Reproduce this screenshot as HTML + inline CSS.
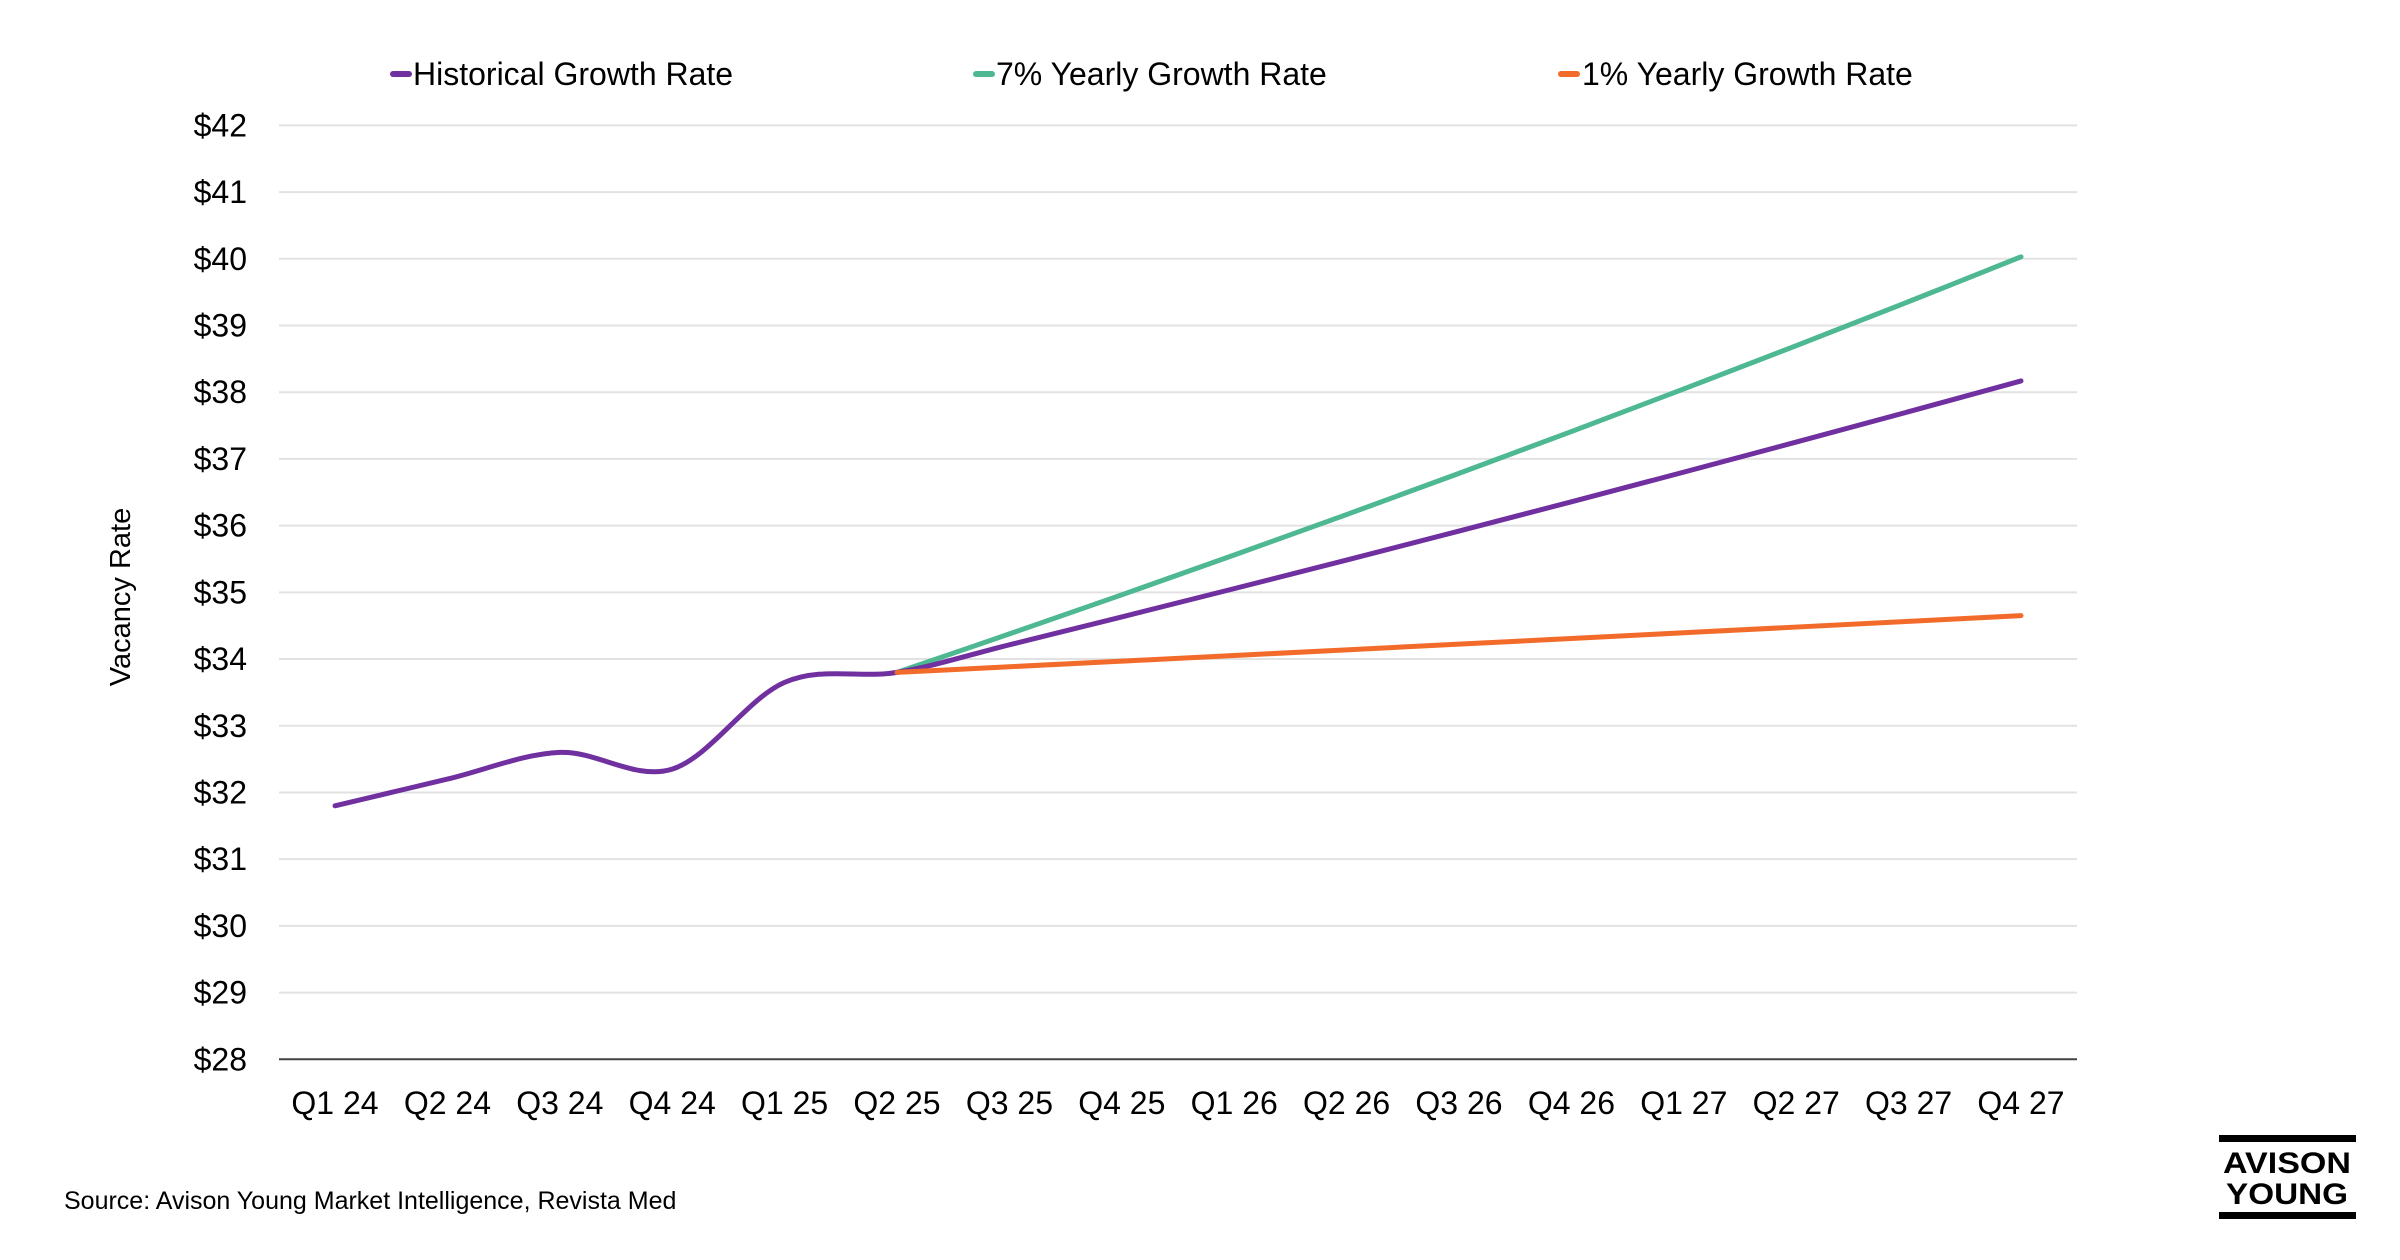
<!DOCTYPE html>
<html><head><meta charset="utf-8"><style>
html,body{margin:0;padding:0;background:#fff;}
svg{display:block;font-family:"Liberation Sans",sans-serif;}
</style></head><body>
<svg id="s" width="2400" height="1260" viewBox="0 0 2400 1260" xmlns="http://www.w3.org/2000/svg">
<g id="grid"></g>
<g id="series"></g>
<g font-size="32" fill="#000">
<text x="413" y="85">Historical Growth Rate</text>
<text x="996" y="85">7% Yearly Growth Rate</text>
<text x="1582" y="85">1% Yearly Growth Rate</text>
</g>
<rect x="390" y="71" width="22" height="6" rx="3" fill="#7030a0"/>
<rect x="973" y="71" width="22" height="6" rx="3" fill="#4db891"/>
<rect x="1558" y="71" width="22" height="6" rx="3" fill="#f26b2a"/>
<text transform="translate(130,597) rotate(-90)" text-anchor="middle" font-size="29">Vacancy Rate</text>
<text x="64" y="1209" font-size="25">Source: Avison Young Market Intelligence, Revista Med</text>
<rect x="2219" y="1135" width="137" height="7" fill="#000"/>
<rect x="2219" y="1212" width="137" height="7" fill="#000"/>
<text x="2287" y="1173" text-anchor="middle" font-size="30" font-weight="bold" textLength="128" lengthAdjust="spacingAndGlyphs">AVISON</text>
<text x="2287" y="1204" text-anchor="middle" font-size="30" font-weight="bold" textLength="122" lengthAdjust="spacingAndGlyphs">YOUNG</text>
</svg>
<script>
var NS="http://www.w3.org/2000/svg";
function Y(v){return 1059.3-(v-28)*66.71;}
function X(i){return 335+i*112.4;}
var g=document.getElementById('grid'),s=document.getElementById('series');
function el(p,t,a,txt){var e=document.createElementNS(NS,t);for(var k in a)e.setAttribute(k,a[k]);if(txt)e.textContent=txt;p.appendChild(e);return e;}
for(var v=28;v<=42;v++){
  var y=Y(v);
  if(v>28) el(g,'line',{x1:279,x2:2077,y1:y,y2:y,stroke:'#e2e2e2','stroke-width':2});
  el(g,'text',{x:247,y:y+11,'text-anchor':'end','font-size':32},'$'+v);
}
el(g,'line',{x1:279,x2:2077,y1:1059.3,y2:1059.3,stroke:'#444','stroke-width':2});
var labs=['Q1 24','Q2 24','Q3 24','Q4 24','Q1 25','Q2 25','Q3 25','Q4 25','Q1 26','Q2 26','Q3 26','Q4 26','Q1 27','Q2 27','Q3 27','Q4 27'];
labs.forEach(function(l,i){el(g,'text',{x:X(i),y:1114,'text-anchor':'middle','font-size':32},l);});
var hist=[31.8,32.2,32.6,32.35,33.65,33.8];
for(var i=1;i<=10;i++)hist.push(33.8*Math.pow(1.01223,i));
var green=[],orange=[];
for(var i=0;i<=10;i++){green.push(33.8*Math.pow(1.07,i/4));orange.push(33.8*Math.pow(1.01,i/4));}
function path(vals,off){
  var p=vals.map(function(v,i){return [X(i+off),Y(v)];});
  var d='M'+p[0][0]+','+p[0][1];
  for(var i=0;i<p.length-1;i++){
    var p0=p[i-1]||p[i],p1=p[i],p2=p[i+1],p3=p[i+2]||p2,t=0.5/3*1.0;
    var c1=[p1[0]+(p2[0]-p0[0])*t,p1[1]+(p2[1]-p0[1])*t];
    var c2=[p2[0]-(p3[0]-p1[0])*t,p2[1]-(p3[1]-p1[1])*t];
    d+=' C'+c1[0]+','+c1[1]+' '+c2[0]+','+c2[1]+' '+p2[0]+','+p2[1];
  }
  return d;
}
el(s,'path',{d:path(green,5),fill:'none',stroke:'#4db891','stroke-width':5,'stroke-linecap':'round'});
el(s,'path',{d:path(hist,0),fill:'none',stroke:'#7030a0','stroke-width':5,'stroke-linecap':'round'});
el(s,'path',{d:path(orange,5),fill:'none',stroke:'#f26b2a','stroke-width':5,'stroke-linecap':'round'});
</script>
</body></html>
